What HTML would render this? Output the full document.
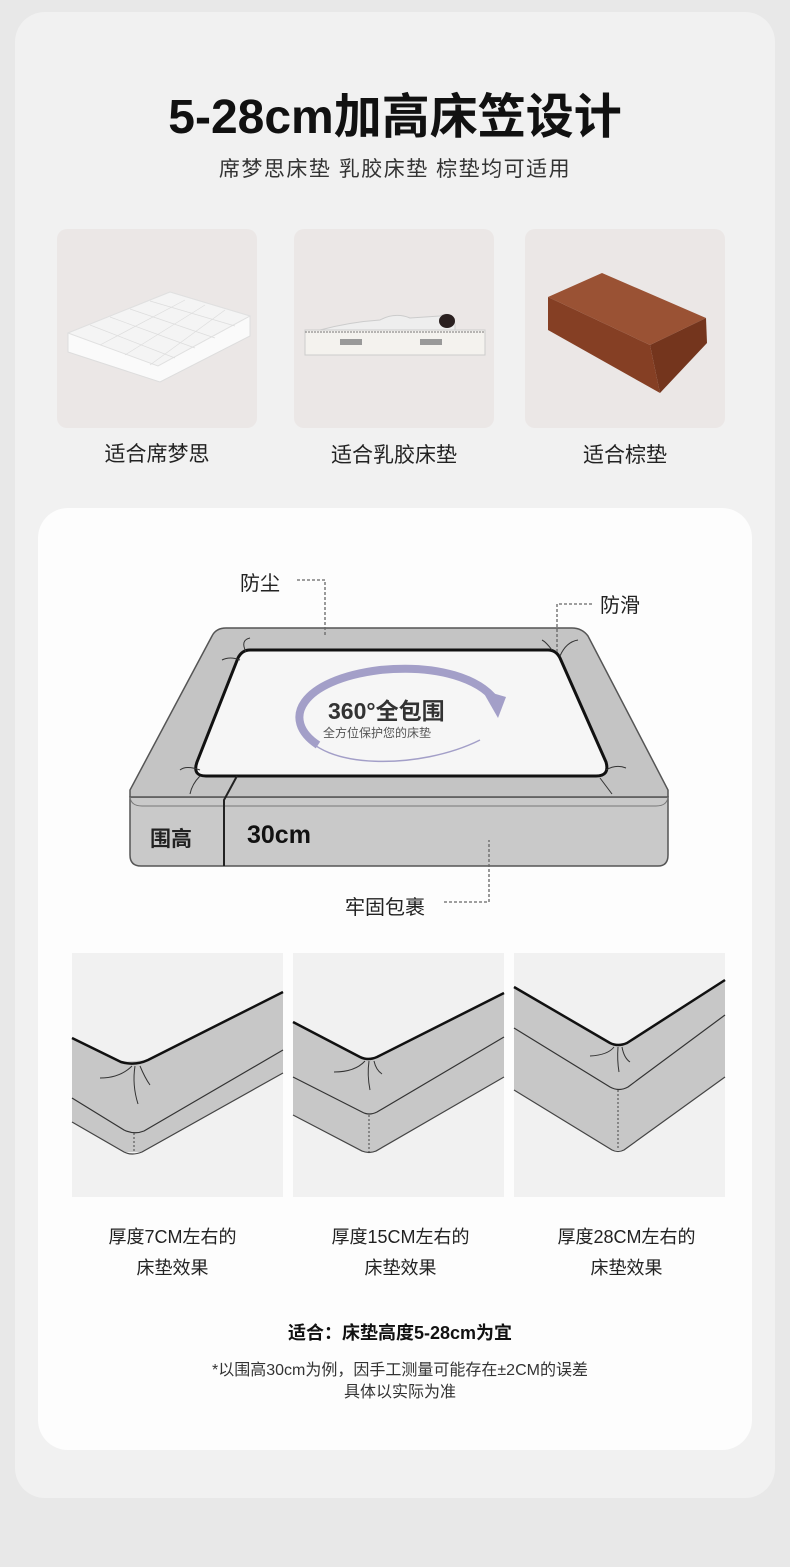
<!DOCTYPE html>
<html><head><meta charset="utf-8"><style>
*{margin:0;padding:0;box-sizing:border-box}
body{width:790px;height:1567px;background:#e8e8e8;position:relative;overflow:hidden;font-family:"Liberation Sans","Noto Sans CJK SC",sans-serif;color:#222}
.a{position:absolute}
.card{left:15px;top:12px;width:760px;height:1486px;background:#f1f1f1;border-radius:30px}
.white{left:38px;top:508px;width:714px;height:942px;background:#fdfdfd;border-radius:30px}
.box{top:229px;width:200px;height:199px;background:#ebe7e6;border-radius:10px}
.t{text-align:center;white-space:nowrap}
</style></head><body>
<div class="a card"></div>
<div class="a t" style="left:0;width:790px;top:88px;font-size:48px;font-weight:bold;color:#111;line-height:60px">5-28cm加高床笠设计</div>
<div class="a t" style="left:0;width:790px;top:156px;font-size:21px;letter-spacing:1.5px;color:#333;line-height:28px">席梦思床垫 乳胶床垫 棕垫均可适用</div>

<div class="a box" style="left:57px"></div>
<div class="a box" style="left:294px"></div>
<div class="a box" style="left:525px"></div>
<svg class="a" style="left:0;top:0" width="790" height="500">
 <polygon points="68,333 170,292 250,316 250,336 160,382 68,352" fill="#fafafa" stroke="#ddd"/>
 <polygon points="68,333 158,366 250,316 170,292" fill="#f4f4f4" stroke="#e0e0e0"/>
 <g stroke="#ddd" stroke-width="0.7">
 <line x1="90" y1="325" x2="175" y2="358"/><line x1="110" y1="317" x2="195" y2="348"/><line x1="130" y1="309" x2="215" y2="338"/><line x1="150" y1="301" x2="235" y2="326"/>
 <line x1="100" y1="345" x2="185" y2="300"/><line x1="125" y1="355" x2="205" y2="305"/><line x1="150" y1="365" x2="225" y2="310"/>
 </g>
 <rect x="305" y="330" width="180" height="25" fill="#f4f2ee" stroke="#ccc"/>
 <line x1="305" y1="332" x2="485" y2="332" stroke="#777" stroke-dasharray="2,1"/>
 <rect x="340" y="339" width="22" height="6" fill="#999"/><rect x="420" y="339" width="22" height="6" fill="#999"/>
 <path d="M320 330 Q350 322 380 320 Q395 312 410 318 L440 316 Q452 310 455 325 L455 330 Z" fill="#eee" stroke="#ccc"/>
 <ellipse cx="447" cy="321" rx="8" ry="7" fill="#2a2020"/>
 <polygon points="548,297 602,273 706,318 650,345" fill="#9a5234"/>
 <polygon points="548,297 650,345 660,393 548,330" fill="#853f24"/>
 <polygon points="650,345 706,318 707,343 660,393" fill="#74351d"/>
</svg>
<div class="a t" style="left:57px;width:200px;top:438px;font-size:21px">适合席梦思</div>
<div class="a t" style="left:294px;width:200px;top:439px;font-size:21px">适合乳胶床垫</div>
<div class="a t" style="left:525px;width:200px;top:439px;font-size:21px">适合棕垫</div>

<div class="a white"></div>
<svg class="a" style="left:0;top:0" width="790" height="1567">
 <path d="M130 797 L130 855 Q130 866 141 866 L658 866 Q668 866 668 855 L668 797 Z" fill="#c9c9c9" stroke="#555" stroke-width="1.5"/>
 <path d="M226 628 L572 628 Q582 628 588 636 L668 790 L668 797 L130 797 L130 790 L212 636 Q216 628 226 628 Z" fill="#c4c4c4" stroke="#555" stroke-width="1.5"/>
 <path d="M130 797 Q131 806 142 806 L656 806 Q667 806 668 797" fill="none" stroke="#777" stroke-width="1"/>
 <path d="M250 650 L548 650 Q556 650 560 658 L606 762 Q610 776 596 776 L206 776 Q192 776 197 762 L238 658 Q242 650 250 650 Z" fill="#f6f6f6" stroke="#111" stroke-width="3"/>
 <path d="M237 776 L224 800 L224 866" fill="none" stroke="#222" stroke-width="2"/>
 <g stroke="#333" fill="none" stroke-width="1">
 <path d="M246 652 Q240 640 250 638"/><path d="M240 660 Q230 656 222 660"/><path d="M560 656 Q566 642 578 640"/><path d="M552 650 Q546 642 542 640"/>
 <path d="M200 770 Q186 765 180 770"/><path d="M200 776 Q192 784 190 794"/><path d="M606 770 Q616 764 626 768"/><path d="M600 778 Q606 786 612 794"/>
 </g>
 <path d="M318 745 C280 720 300 680 380 670 C440 664 480 680 495 700" fill="none" stroke="#a39fc8" stroke-width="8"/>
 <path d="M302 730 C320 770 420 770 480 740" fill="none" stroke="#a39fc8" stroke-width="1.5"/>
 <polygon points="482,690 506,697 498,718" fill="#a39fc8"/>
 <g stroke="#666" stroke-width="1.3" stroke-dasharray="3,2" fill="none">
 <path d="M297 580 L325 580 L325 636"/>
 <path d="M592 604 L557 604 L557 652"/>
 <path d="M444 902 L489 902 L489 840"/>
 </g>
 <rect x="72" y="953" width="211" height="244" fill="#f1f1f1"/>
 <rect x="293" y="953" width="211" height="244" fill="#f1f1f1"/>
 <rect x="514" y="953" width="211" height="244" fill="#f1f1f1"/>
 <g stroke-linejoin="round">
 <polygon points="72,1038 121,1062 148,1060 283,992 283,1073 142,1152 124,1152 72,1122" fill="#c7c7c7"/>
 <path d="M72 1038 L121 1062 Q135 1066 148 1060 L283 992" fill="none" stroke="#111" stroke-width="2.5"/>
 <path d="M72 1098 L124 1130 Q134 1135 144 1131 L283 1050" fill="none" stroke="#333" stroke-width="1.2"/>
 <path d="M72 1122 L124 1152 Q132 1156 142 1152 L283 1073" fill="none" stroke="#444" stroke-width="1.2"/>
 <line x1="134" y1="1133" x2="134" y2="1153" stroke="#444" stroke-dasharray="2,2"/>
 <g stroke="#333" fill="none"><path d="M132 1066 Q120 1078 100 1078"/><path d="M135 1066 Q132 1085 138 1104"/><path d="M140 1066 Q145 1078 150 1085"/></g>

 <polygon points="293,1022 360,1058 375,1057 504,993 504,1077 376,1152 362,1152 293,1115" fill="#c7c7c7"/>
 <path d="M293 1022 L360 1057 Q368 1061 377 1057 L504 993" fill="none" stroke="#111" stroke-width="2.5"/>
 <path d="M293 1077 L362 1112 Q369 1116 377 1112 L504 1037" fill="none" stroke="#333" stroke-width="1.2"/>
 <path d="M293 1115 L362 1151 Q369 1154 376 1151 L504 1077" fill="none" stroke="#444" stroke-width="1.2"/>
 <line x1="369" y1="1115" x2="369" y2="1153" stroke="#444" stroke-dasharray="2,2"/>
 <g stroke="#333" fill="none"><path d="M365 1061 Q355 1072 334 1072"/><path d="M369 1061 Q367 1075 370 1090"/><path d="M374 1061 Q376 1070 382 1074"/></g>

 <polygon points="514,987 610,1044 626,1043 725,980 725,1077 624,1150 612,1150 514,1090" fill="#c7c7c7"/>
 <path d="M514 987 L610 1043 Q618 1047 627 1043 L725 980" fill="none" stroke="#111" stroke-width="2.5"/>
 <path d="M514 1028 L610 1087 Q619 1092 628 1087 L725 1015" fill="none" stroke="#333" stroke-width="1.2"/>
 <path d="M514 1090 L612 1150 Q618 1153 624 1150 L725 1077" fill="none" stroke="#444" stroke-width="1.2"/>
 <line x1="618" y1="1090" x2="618" y2="1150" stroke="#444" stroke-dasharray="2,2"/>
 <g stroke="#333" fill="none"><path d="M614 1047 Q608 1055 590 1056"/><path d="M618 1047 Q617 1060 619 1072"/><path d="M622 1047 Q624 1058 630 1062"/></g>
 </g>
</svg>
<div class="a" style="left:240px;top:567px;font-size:20px">防尘</div>
<div class="a" style="left:600px;top:589px;font-size:20px">防滑</div>
<div class="a" style="left:345px;top:891px;font-size:20px">牢固包裹</div>
<div class="a" style="left:150px;top:823px;font-size:21px;font-weight:bold;color:#222">围高</div>
<div class="a" style="left:247px;top:821px;font-size:25px;font-weight:bold;color:#111">30cm</div>
<div class="a" style="left:328px;top:692px;font-size:23px;font-weight:bold;color:#333">360°全包围</div>
<div class="a" style="left:323px;top:724px;font-size:12px;color:#555">全方位保护您的床垫</div>

<div class="a t" style="left:67px;width:211px;top:1222px;font-size:18px;line-height:31px">厚度7CM左右的<br>床垫效果</div>
<div class="a t" style="left:295px;width:211px;top:1222px;font-size:18px;line-height:31px">厚度15CM左右的<br>床垫效果</div>
<div class="a t" style="left:521px;width:211px;top:1222px;font-size:18px;line-height:31px">厚度28CM左右的<br>床垫效果</div>
<div class="a t" style="left:0;width:800px;top:1319px;font-size:18px;font-weight:bold;color:#111">适合：床垫高度5-28cm为宜</div>
<div class="a t" style="left:0;width:800px;top:1360px;font-size:16px;line-height:22px;color:#333">*以围高30cm为例，因手工测量可能存在±2CM的误差<br>具体以实际为准</div>
</body></html>
